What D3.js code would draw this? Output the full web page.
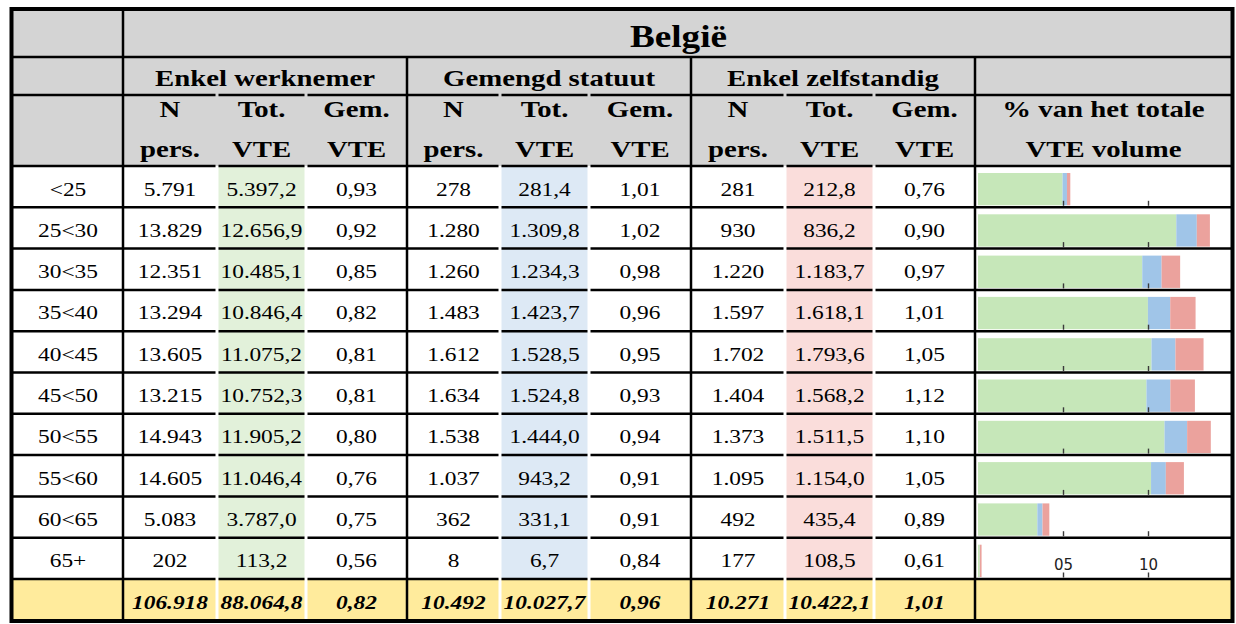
<!DOCTYPE html>
<html><head><meta charset="utf-8">
<script src="https://cdn.jsdelivr.net/npm/d3@7"></script>
<style>body{margin:0;background:#fff}svg{display:block}</style>
</head><body><svg id="c" width="1236" height="624"></svg>
<script>
// ---------- data ----------
const title = "België";
const groups = ["Enkel werknemer", "Gemengd statuut", "Enkel zelfstandig"];
const subHeads = [["N", "pers."], ["Tot.", "VTE"], ["Gem.", "VTE"]];
const chartHead = ["% van het totale", "VTE volume"];
const ageGroups = ["<25", "25<30", "30<35", "35<40", "40<45", "45<50", "50<55", "55<60", "60<65", "65+"];

const ewN   = [5791, 13829, 12351, 13294, 13605, 13215, 14943, 14605, 5083, 202];
const ewTot = [5397.2, 12656.9, 10485.1, 10846.4, 11075.2, 10752.3, 11905.2, 11046.4, 3787.0, 113.2];
const ewGem = [0.93, 0.92, 0.85, 0.82, 0.81, 0.81, 0.80, 0.76, 0.75, 0.56];

const gsN   = [278, 1280, 1260, 1483, 1612, 1634, 1538, 1037, 362, 8];
const gsTot = [281.4, 1309.8, 1234.3, 1423.7, 1528.5, 1524.8, 1444.0, 943.2, 331.1, 6.7];
const gsGem = [1.01, 1.02, 0.98, 0.96, 0.95, 0.93, 0.94, 0.91, 0.91, 0.84];

const ezN   = [281, 930, 1220, 1597, 1702, 1404, 1373, 1095, 492, 177];
const ezTot = [212.8, 836.2, 1183.7, 1618.1, 1793.6, 1568.2, 1511.5, 1154.0, 435.4, 108.5];
const ezGem = [0.76, 0.90, 0.97, 1.01, 1.05, 1.12, 1.10, 1.05, 0.89, 0.61];

const totN   = [106918, 10492, 10271];
const totTot = [88064.8, 10027.7, 10422.1];
const totGem = [0.82, 0.96, 1.01];

const tickValues = [5, 10];
const tickLabels = ["05", "10"];

// ---------- setup ----------
const loc = d3.formatLocale({decimal: ",", thousands: ".", grouping: [3], currency: ["€", ""]});
const fN = loc.format(",d"), fT = loc.format(",.1f"), fG = loc.format(".2f");

const svg = d3.select("#c");
const colX = [13, 123, 217, 306, 407, 500, 589, 691, 785, 874, 975, 1232];
const groupBounds = [123, 407, 691, 975];
const yTop = 10, yH1 = 57, yH2 = 95, yH3 = 166, yBottom = 621;
const y = d3.scaleBand().domain(ageGroups).range([yH3, 579]).padding(0);
const totTop = 579;
const SX = 1.2;

const colors = {ew: "#c6e7b9", gs: "#a0c5e8", ez: "#eba29d"};
const cellFill = {ew: "#e2f1da", gs: "#dde9f5", ez: "#fadddb"};
const headGray = "#d4d4d4", totYellow = "#ffeb9c";

const grand = d3.sum(totTot);
const x = d3.scaleLinear().domain([0, 15]).range([978, 1233]);

function txt(px, py, s, size, weight, style) {
  svg.append("text")
    .attr("transform", `translate(${px},${py}) scale(${SX},1)`)
    .attr("text-anchor", "middle")
    .attr("font-family", "'Liberation Serif','Times New Roman',serif")
    .attr("font-size", size)
    .attr("font-weight", weight || "normal")
    .attr("font-style", style || "normal")
    .attr("fill", "#000")
    .text(s);
}
const cx = c => (colX[c] + colX[c + 1]) / 2;
const isGroupBound = xx => groupBounds.includes(xx) || xx === colX[0] || xx === colX[11];

// ---------- fills ----------
svg.append("rect").attr("x", colX[0]).attr("y", yTop).attr("width", colX[11] - colX[0]).attr("height", yH3 - yTop).attr("fill", headGray);

const totCols = [{c: 2, k: "ew"}, {c: 5, k: "gs"}, {c: 8, k: "ez"}];
totCols.forEach(tc => {
  svg.selectAll(null).data(ageGroups).enter().append("rect")
    .attr("x", colX[tc.c] + 1.5).attr("width", colX[tc.c + 1] - colX[tc.c] - 3)
    .attr("y", d => y(d)).attr("height", y.bandwidth())
    .attr("fill", cellFill[tc.k]);
});
// total row yellow cells
for (let c = 0; c < 11; c++) {
  const l = colX[c] + (isGroupBound(colX[c]) ? 0 : 1.5);
  const r = colX[c + 1] - (isGroupBound(colX[c + 1]) ? 0 : 1.5);
  svg.append("rect").attr("x", l).attr("y", totTop).attr("width", r - l).attr("height", yBottom - totTop).attr("fill", totYellow);
}

// ---------- stacked bars ----------
const stackData = ageGroups.map((a, i) => ({age: a, ew: ewTot[i] / grand * 100, gs: gsTot[i] / grand * 100, ez: ezTot[i] / grand * 100}));
const stacked = d3.stack().keys(["ew", "gs", "ez"])(stackData);
const barG = svg.append("g");
stacked.forEach(s => {
  barG.selectAll(null).data(s).enter().append("rect")
    .attr("x", d => x(d[0])).attr("width", d => x(d[1]) - x(d[0]))
    .attr("y", d => y(d.data.age) + 7).attr("height", y.bandwidth() - 9)
    .attr("fill", colors[s.key]);
});
// ticks per row
ageGroups.forEach((a, i) => {
  const last = i === ageGroups.length - 1;
  const ax = d3.axisTop(x).tickValues(tickValues).tickSize(5).tickPadding(2.5)
    .tickFormat((d, j) => last ? tickLabels[j] : "");
  const g = svg.append("g").attr("transform", `translate(0,${y(a) + y.bandwidth() - 1.5})`).call(ax);
  g.attr("font-size", 15).attr("font-family", "'DejaVu Sans',sans-serif");
  g.select(".domain").remove();
  g.selectAll(".tick line").attr("stroke", "#3a3a3a").attr("stroke-width", 1.4);
  g.selectAll(".tick text").style("font-size", "15px").attr("fill", "#222");
});

// ---------- lines ----------
const L = svg.append("g").attr("stroke", "#000").attr("stroke-width", 2.5);
function hline(yy, gapped) {
  for (let c = 0; c < 11; c++) {
    const l = colX[c] + (gapped && !isGroupBound(colX[c]) ? 1.5 : 0);
    const r = colX[c + 1] - (gapped && !isGroupBound(colX[c + 1]) ? 1.5 : 0);
    L.append("line").attr("x1", l).attr("x2", r).attr("y1", yy).attr("y2", yy);
  }
}
hline(yH1, false);
hline(yH2, true);
hline(yH3, true);
ageGroups.forEach(a => hline(y(a) + y.bandwidth(), true));
L.append("line").attr("x1", 123).attr("x2", 123).attr("y1", yTop).attr("y2", yBottom);
groupBounds.slice(1).forEach(gx => L.append("line").attr("x1", gx).attr("x2", gx).attr("y1", yH1).attr("y2", yBottom));
svg.append("rect").attr("x", 11.5).attr("y", 9).attr("width", 1221).attr("height", 612)
  .attr("fill", "none").attr("stroke", "#000").attr("stroke-width", 4);

// ---------- header text ----------
txt((123 + 1232) / 2 + 1, 47, title, 31, "bold");
groups.forEach((g, i) => txt((groupBounds[i] + groupBounds[i + 1]) / 2, 86, g, 24, "bold"));
for (let gi = 0; gi < 3; gi++) {
  subHeads.forEach((sh, j) => {
    const c = 1 + gi * 3 + j;
    txt(cx(c), 117, sh[0], 24, "bold");
    txt(cx(c), 157, sh[1], 24, "bold");
  });
}
txt(cx(10), 117, chartHead[0], 24, "bold");
txt(cx(10), 157, chartHead[1], 24, "bold");

// ---------- body text ----------
const cols = [ewN, ewTot, ewGem, gsN, gsTot, gsGem, ezN, ezTot, ezGem];
const fmts = [fN, fT, fG];
ageGroups.forEach((a, i) => {
  const by = y(a) + 29.5;
  txt(cx(0), by, a, 19.5);
  cols.forEach((arr, c) => txt(cx(c + 1), by, fmts[c % 3](arr[i]), 19.5));
});
const totalCols = [totN[0], totTot[0], totGem[0], totN[1], totTot[1], totGem[1], totN[2], totTot[2], totGem[2]];
totalCols.forEach((v, c) => txt(cx(c + 1), totTop + 29.5, fmts[c % 3](v), 19.5, "bold", "italic"));
</script>
</body></html>
